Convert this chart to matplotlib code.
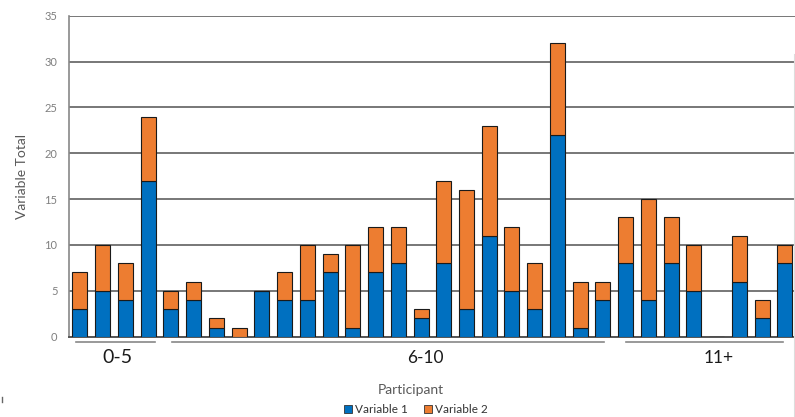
import matplotlib.pyplot as plt
from matplotlib.lines import Line2D
from matplotlib.patches import Patch
import numpy as np

plt.rcParams['font.family'] = ['Lato', 'DejaVu Sans']

# participants 1..32, grouped by age
variable1 = [3, 5, 4, 17,
             3, 4, 1, 0, 5, 4, 4, 7, 1, 7, 8, 2, 8, 3, 11, 5, 3, 22, 1, 4,
             8, 4, 8, 5, 0, 6, 2, 8]
variable2 = [4, 5, 4, 7,
             2, 2, 1, 1, 0, 3, 6, 2, 9, 5, 4, 1, 9, 13, 12, 7, 5, 10, 5, 2,
             5, 11, 5, 5, 0, 5, 2, 2]
groups = ['0-5', '6-10', '11+']
group_spans = [(-0.16, 3.31), (4.06, 23.04), (24.0, 30.9)]
group_label_x = [1.64, 15.2, 28.1]
y_ticks = [0, 5, 10, 15, 20, 25, 30, 35]

blue = '#0070C0'
orange = '#ED7D31'

fig = plt.figure(figsize=(7.95, 4.17), dpi=100)
ax = fig.add_axes([0.0862, 0.1926, 0.9168, 0.7698])

x = np.arange(len(variable1))
v1 = np.array(variable1)
v2 = np.array(variable2)
ax.bar(x, v1, width=0.66, color=blue, edgecolor='#1a1a1a', linewidth=0.8, zorder=3)
ax.bar(x, v2, width=0.66, bottom=v1, color=orange, edgecolor='#1a1a1a',
       linewidth=0.8, zorder=3)

ax.set_xlim(-0.5, 31.55)
ax.set_ylim(0, 35)
ax.set_yticks(y_ticks)
ax.set_xticks([])
ax.tick_params(axis='y', length=0, labelsize=8, labelcolor='#7f7f7f', pad=8)
ax.grid(axis='y', color='#777777', linewidth=1.4, zorder=0)
for s in ['top', 'right']:
    ax.spines[s].set_visible(False)
ax.spines['left'].set_color('#888888')
ax.spines['left'].set_linewidth(1.2)
ax.spines['bottom'].set_color('#555555')
ax.spines['bottom'].set_linewidth(1.4)
ax.set_ylabel('Variable Total', fontsize=10, color='#595959', labelpad=12)

for name, (a, b), lx in zip(groups, group_spans, group_label_x):
    ax.plot([a, b], [-0.6, -0.6], color='#888888', linewidth=1.2, clip_on=False)
    fs = 14 if name == '0-5' else 12.5
    ax.text(lx, -2.3, name, ha='center', va='center', fontsize=fs, color='#1a1a1a',
            clip_on=False)

fig.text(0.517, 0.065, 'Participant', ha='center', va='center', fontsize=10,
         color='#595959')

handles = [Patch(facecolor=blue, edgecolor='#333333', linewidth=0.6),
           Patch(facecolor=orange, edgecolor='#333333', linewidth=0.6)]
fig.legend(handles, ['Variable 1', 'Variable 2'], loc='center',
           bbox_to_anchor=(0.523, 0.017), ncol=2, frameon=False, fontsize=8.5,
           handlelength=0.7, handleheight=0.7, handletextpad=0.2,
           columnspacing=1.4, labelcolor='#333333')

# small stray mark at lower left and faint outer border on the right
fig.add_artist(Line2D([0.0025, 0.0025], [0.035, 0.048], color='#666666', linewidth=1))
fig.add_artist(Line2D([0.9985, 0.9985], [0.0, 0.87], color='#dddddd', linewidth=0.8))

fig.savefig('out.png', dpi=100)
